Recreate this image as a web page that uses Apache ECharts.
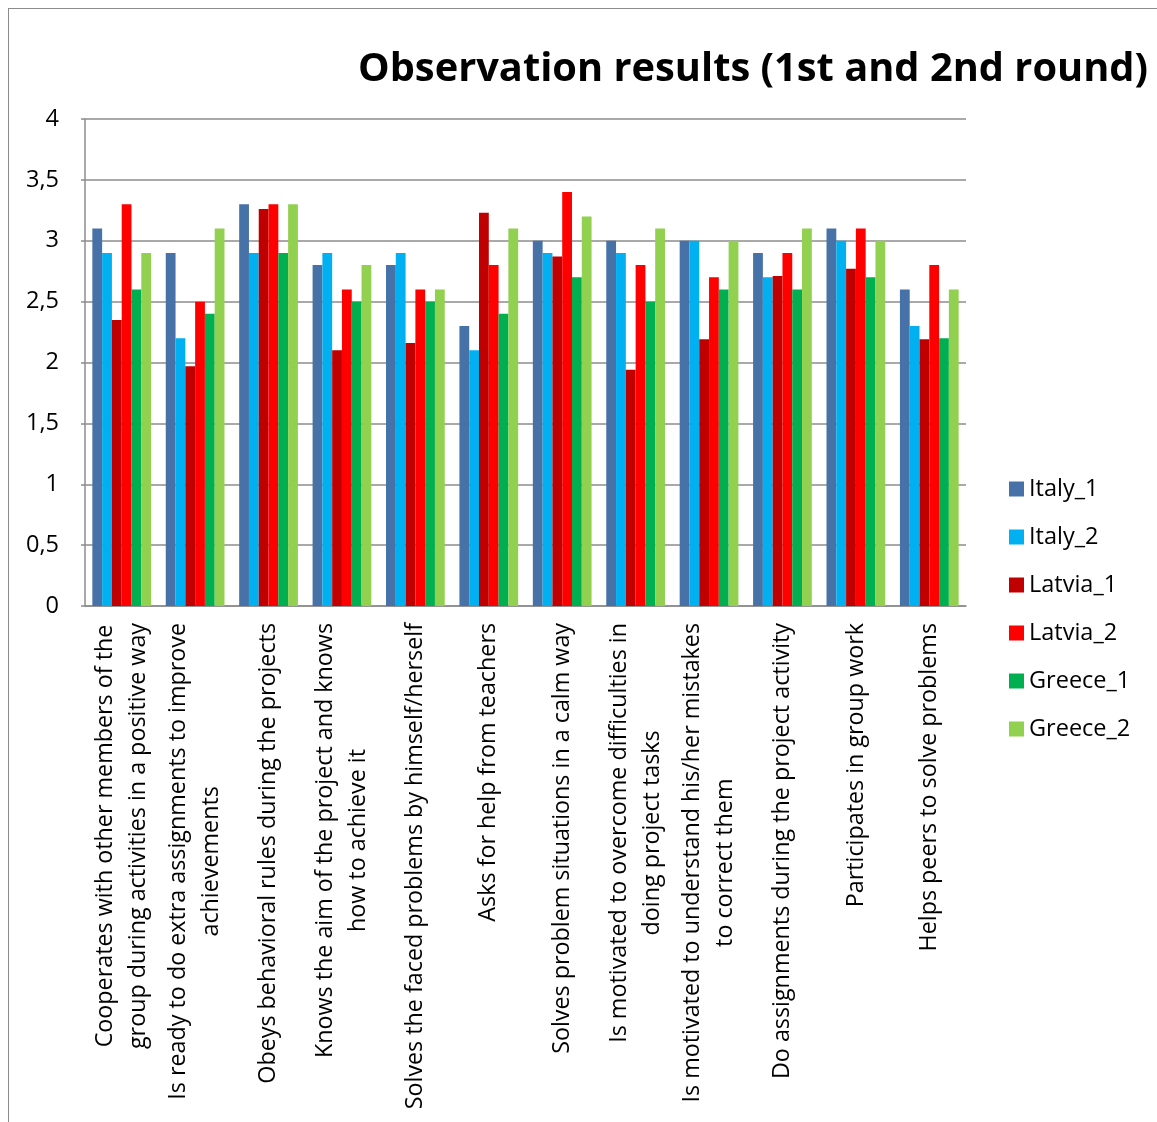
<!DOCTYPE html>
<html>
<head>
<meta charset="utf-8">
<script src="https://cdn.jsdelivr.net/npm/echarts@6/dist/echarts.min.js"></script>
<style>
  html, body { margin: 0; padding: 0; background: #fff; }
  #frame { position: absolute; left: 8px; top: 8px; width: 1149px; height: 1114px;
           border-left: 1.5px solid #8c8c8c; border-top: 1.5px solid #8c8c8c; box-sizing: border-box; }
  #chart { position: absolute; left: 0; top: 0; width: 1157px; height: 1122px; }
</style>
</head>
<body>
<div id="frame"></div>
<div id="chart"></div>
<script>
// Behaviour categories (line breaks as wrapped on the axis)
const categories = [
  'Cooperates with other members of the\ngroup during activities in a positive way',
  'Is ready to do extra assignments to improve\nachievements',
  'Obeys behavioral rules during the projects',
  'Knows the aim of the project and knows\nhow to achieve it',
  'Solves the faced problems by himself/herself',
  'Asks for help from teachers',
  'Solves problem situations in a calm way',
  'Is motivated to overcome difficulties in\ndoing project tasks',
  'Is motivated to understand his/her mistakes\nto correct them',
  'Do assignments during the project activity',
  'Participates in group work',
  'Helps peers to solve problems'
];

// Average observation scores per country and round
const italy1  = [3.1, 2.9, 3.3, 2.8, 2.8, 2.3, 3.0, 3.0, 3.0, 2.9, 3.1, 2.6];
const italy2  = [2.9, 2.2, 2.9, 2.9, 2.9, 2.1, 2.9, 2.9, 3.0, 2.7, 3.0, 2.3];
const latvia1 = [2.35, 1.97, 3.26, 2.1, 2.16, 3.23, 2.87, 1.94, 2.19, 2.71, 2.77, 2.19];
const latvia2 = [3.3, 2.5, 3.3, 2.6, 2.6, 2.8, 3.4, 2.8, 2.7, 2.9, 3.1, 2.8];
const greece1 = [2.6, 2.4, 2.9, 2.5, 2.5, 2.4, 2.7, 2.5, 2.6, 2.6, 2.7, 2.2];
const greece2 = [2.9, 3.1, 3.3, 2.8, 2.6, 3.1, 3.2, 3.1, 3.0, 3.1, 3.0, 2.6];

const seriesNames = ['Italy_1', 'Italy_2', 'Latvia_1', 'Latvia_2', 'Greece_1', 'Greece_2'];
const seriesData = [italy1, italy2, latvia1, latvia2, greece1, greece2];
const colors = ['#4672A8', '#00B0F0', '#C00000', '#FF0000', '#00B050', '#92D050'];

const FONT = '"Open Sans", sans-serif';
const chart = echarts.init(document.getElementById('chart'));

chart.setOption({
  animation: false,
  color: colors,
  title: {
    text: 'Observation results (1st and 2nd round)',
    right: 4,
    top: 45,
    textStyle: { fontFamily: FONT, fontWeight: 'bold', fontSize: 39.8, color: '#000' }
  },
  legend: {
    orient: 'vertical',
    left: 1004,
    top: 472,
    icon: 'rect',
    itemWidth: 15,
    itemHeight: 15,
    itemGap: 24,
    textStyle: { fontFamily: FONT, fontSize: 23.5, color: '#000', lineHeight: 24 },
    data: seriesNames
  },
  grid: { left: 85, right: 191, top: 119, bottom: 516, containLabel: false },
  xAxis: {
    type: 'category',
    data: categories,
    axisLine: { lineStyle: { color: '#8c8c8c', width: 1.5 } },
    axisTick: { show: false },
    axisLabel: {
      interval: 0,
      rotate: 90,
      margin: 17,
      fontFamily: FONT,
      fontSize: 23.3,
      color: '#000',
      lineHeight: 33,
      formatter: v => v.split('\n').map(s => '{c|' + s + '}').join('\n'),
      rich: { c: { align: 'center', fontFamily: FONT, fontSize: 23.3, color: '#000', lineHeight: 33 } }
    }
  },
  yAxis: {
    type: 'value',
    min: 0,
    max: 4,
    interval: 0.5,
    axisLine: { show: true, lineStyle: { color: '#8c8c8c', width: 1.5 } },
    axisTick: { show: true, length: 4, lineStyle: { color: '#8c8c8c', width: 1.5 } },
    splitLine: { lineStyle: { color: '#8c8c8c', width: 1.5 } },
    axisLabel: {
      margin: 26,
      fontFamily: FONT,
      fontSize: 23.5,
      color: '#000',
      formatter: v => String(v).replace('.', ',')
    }
  },
  series: seriesNames.map((name, i) => ({
    name,
    type: 'bar',
    data: seriesData[i],
    barGap: '0%',
    barCategoryGap: '20%',
    itemStyle: { color: colors[i] }
  }))
});
</script>
</body>
</html>
